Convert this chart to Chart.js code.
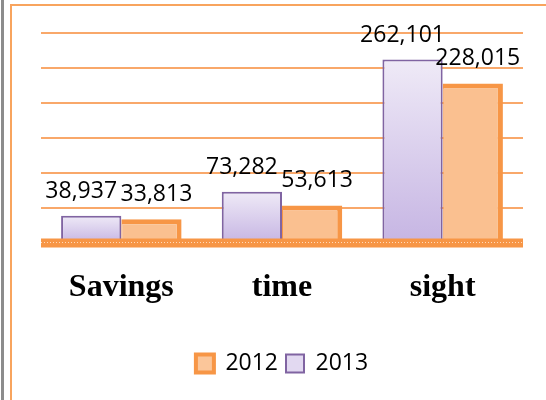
<!DOCTYPE html>
<html>
<head>
<meta charset="utf-8">
<script src="https://cdn.jsdelivr.net/npm/chart.js@4"></script>
<style>
    html, body { margin: 0; padding: 0; background: #fff; overflow: hidden; }
    body { width: 546px; height: 400px; position: relative; }
    .leftRule { position: absolute; left: 1px; top: 0; width: 3px; height: 400px; background: #8c8c8c; }
    .frame { position: absolute; left: 10px; top: 4px; width: 560px; height: 420px; border: 2px solid #f8a45e; box-sizing: border-box; }
    .chartBox { position: absolute; left: 12px; top: 6px; width: 546px; height: 394px; }
</style>
</head>
<body>
<div class="leftRule"></div>
<div class="frame"></div>
<div class="chartBox"><canvas id="usageChart"></canvas></div>
<script>
const categories = ['Savings', 'time', 'sight'];
const values2013 = [38937, 73282, 262101];
const values2012 = [33813, 53613, 228015];
const yMax = 300000;
const yStep = 50000;

// gradient đi theo từng cột (trên nhạt, dưới đậm)
function purpleFill(ctx) {
    const chart = ctx.chart;
    if (!chart.chartArea || !chart.scales.y || ctx.raw === undefined) return '#dcd0ee';
    const y = chart.scales.y;
    const top = y.getPixelForValue(ctx.raw);
    const bottom = y.getPixelForValue(0);
    const g = chart.ctx.createLinearGradient(0, top, 0, bottom);
    g.addColorStop(0, '#efeaf7');
    g.addColorStop(1, '#c6b5e3');
    return g;
}

const baseBand = {
    id: 'baseBand',
    afterDatasetsDraw(chart) {
        const { ctx, chartArea } = chart;
        const zero = chart.scales.y.getPixelForValue(0);
        ctx.save();
        ctx.fillStyle = '#f79646';
        ctx.fillRect(chartArea.left, zero - 4.5, chartArea.right - chartArea.left, 9);
        ctx.strokeStyle = 'rgba(255,225,200,0.9)';
        ctx.lineWidth = 1;
        ctx.setLineDash([1, 2]);
        ctx.beginPath();
        ctx.moveTo(chartArea.left, zero - 0.5);
        ctx.lineTo(chartArea.right, zero - 0.5);
        ctx.stroke();
        ctx.restore();
    }
};

const valueLabels = {
    id: 'valueLabels',
    afterDatasetsDraw(chart) {
        const ctx = chart.ctx;
        ctx.save();
        ctx.font = '23px "Open Sans"';
        ctx.fillStyle = '#000';
        ctx.textAlign = 'center';
        ctx.textBaseline = 'alphabetic';
        chart.data.datasets.forEach((ds, i) => {
            const dx = i === 0 ? -10 : 5;
            chart.getDatasetMeta(i).data.forEach((bar, j) => {
                ctx.fillText(ds.data[j].toLocaleString('en-US'), bar.x + dx, bar.y - 18);
            });
        });
        ctx.restore();
    }
};

const data = {
    labels: categories,
    datasets: [{
            label: '2013',
            data: values2013,
            backgroundColor: purpleFill,
            borderColor: '#8064a2',
            borderWidth: 2,
            borderSkipped: 'bottom'
        },
        {
            label: '2012',
            data: values2012,
            backgroundColor: '#fac090',
            borderColor: '#f79646',
            borderWidth: { top: 5, right: 5, left: 1, bottom: 0 },
            borderSkipped: 'bottom'
        }
    ]
};

const config = {
    type: 'bar',
    data: data,
    options: {
        responsive: true,
        maintainAspectRatio: false,
        animation: false,
        datasets: { bar: { barPercentage: 1, categoryPercentage: 0.75 } },
        layout: { padding: { left: 29, right: 35, top: 27, bottom: 15 } },
        scales: {
            y: {
                min: 0,
                max: yMax,
                ticks: { display: false, stepSize: yStep },
                border: { display: false },
                grid: {
                    drawTicks: false,
                    lineWidth: 2,
                    color: c => c.tick && c.tick.value === 0 ? 'rgba(0,0,0,0)' : '#f9a86a'
                },
                afterFit: s => { s.width = 0; }
            },
            x: {
                border: { display: false },
                grid: { display: false, drawTicks: false },
                ticks: {
                    color: '#000',
                    padding: 26,
                    font: { family: '"Liberation Serif"', size: 32, weight: 'bold' }
                },
                afterFit: s => { s.height = 101; }
            }
        },
        plugins: {
            legend: {
                position: 'bottom',
                reverse: true,
                labels: {
                    color: '#000',
                    boxWidth: 18,
                    boxHeight: 18,
                    padding: 8,
                    font: { family: '"Open Sans"', size: 23 },
                    generateLabels: chart => chart.data.datasets.map((ds, i) => ({
                        text: ds.label,
                        fillStyle: i === 0 ? '#e2d9f1' : '#fbc69a',
                        strokeStyle: i === 0 ? '#8064a2' : '#f79646',
                        lineWidth: i === 0 ? 2 : 4,
                        datasetIndex: i,
                        hidden: false,
                        fontColor: '#000'
                    }))
                }
            },
            tooltip: { enabled: false }
        }
    },
    plugins: [baseBand, valueLabels]
};

new Chart('usageChart', config);
</script>
</body>
</html>
